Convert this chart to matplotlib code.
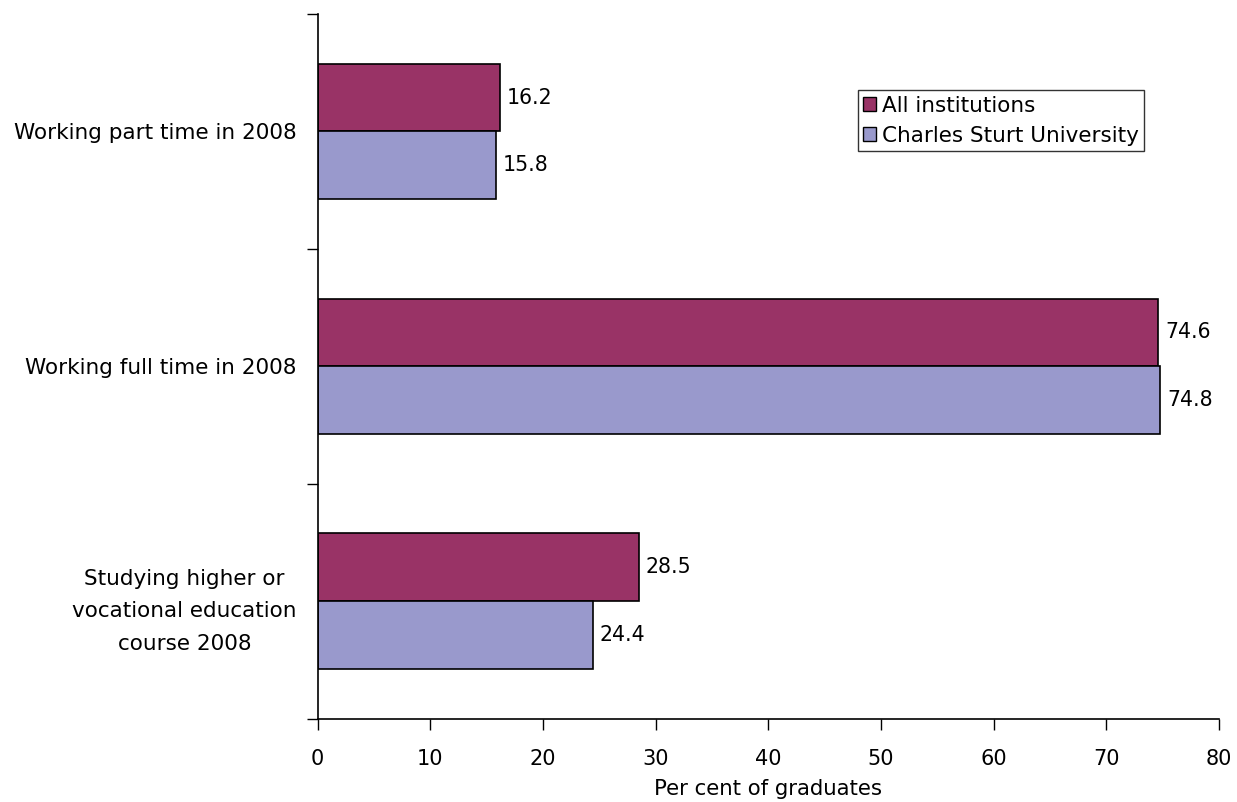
import matplotlib
matplotlib.use("Agg")
import matplotlib.pyplot as plt
from matplotlib.patches import Patch
from matplotlib.transforms import ScaledTranslation
import numpy as np

categories = [
    "Working part time in 2008",
    "Working full time in 2008",
    "Studying higher or\nvocational education\ncourse 2008",
]
series_names = ["All institutions", "Charles Sturt University"]
all_institutions = [16.2, 74.6, 28.5]
charles_sturt = [15.8, 74.8, 24.4]
x_ticks = [0, 10, 20, 30, 40, 50, 60, 70, 80]
x_label = "Per cent of graduates"

colors = ["#993366", "#9999CC"]

plt.rcParams["font.family"] = ["DejaVu Sans"]
fig = plt.figure(figsize=(12.37, 8.02), dpi=100)
ax = fig.add_axes([0.2567, 0.1041, 0.7288, 0.8784])

n = len(categories)
ypos = np.arange(n)[::-1]  # first category at the top
h = 0.288

for vals, color, offset in [(all_institutions, colors[0], h / 2),
                            (charles_sturt, colors[1], -h / 2)]:
    bars = ax.barh(ypos + offset, vals, height=h, color=color,
                   edgecolor="black", linewidth=1.2)
    for b, v in zip(bars, vals):
        ax.text(v + 0.6, b.get_y() + b.get_height() / 2, f"{v:.1f}",
                va="center", ha="left", fontsize=14.8)

ax.set_xlim(0, 80)
ax.set_ylim(-0.5, n - 0.5)
ax.set_xticks(x_ticks)
ax.set_xticklabels([str(t) for t in x_ticks], fontsize=15)
ax.set_yticks(np.arange(n + 1) - 0.5)
ax.set_yticklabels([])
ax.set_yticks(ypos, labels=categories, minor=True)
ax.tick_params(axis="y", which="minor", length=0, pad=15, labelsize=15.5)
for lbl in ax.get_yticklabels(minor=True):
    lbl.set_multialignment("center")
    lbl.set_linespacing(1.78)
    if "\n" in lbl.get_text():
        lbl.set_transform(lbl.get_transform()
                          + ScaledTranslation(0, -0.02, fig.dpi_scale_trans))
ax.tick_params(axis="y", which="major", length=8, width=1, direction="out")
ax.tick_params(axis="x", length=8, width=1, direction="out", pad=14)
ax.set_xlabel(x_label, fontsize=15.3, labelpad=7)

for s in ["top", "right"]:
    ax.spines[s].set_visible(False)
for s in ["left", "bottom"]:
    ax.spines[s].set_linewidth(1.2)

handles = [Patch(facecolor=c, edgecolor="black", linewidth=1.0) for c in colors]
leg = ax.legend(handles, series_names, loc="upper left",
                bbox_to_anchor=(0.5995, 0.8915), fontsize=15.5, frameon=True,
                fancybox=False, edgecolor="black", handlelength=0.6,
                handleheight=0.6, handletextpad=0.25, borderpad=0.25,
                labelspacing=0.45, borderaxespad=0)
leg.get_frame().set_linewidth(1.0)

fig.savefig("out.png", dpi=100)
